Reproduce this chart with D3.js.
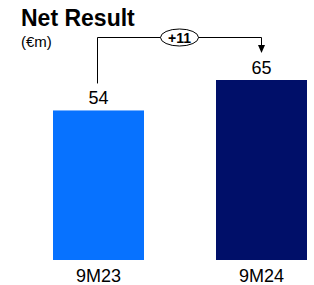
<!DOCTYPE html>
<html>
<head>
<meta charset="utf-8">
<script src="https://cdn.jsdelivr.net/npm/d3@7"></script>
<style>
  body { margin: 0; background: #fff; }
  text { font-family: "Liberation Sans", Arial, sans-serif; }
</style>
</head>
<body>
<div id="chart"></div>
<script>
// data
var categories = ["9M23", "9M24"];
var values = [54, 65];
var barColors = ["#0772ff", "#000f69"];
var title = "Net Result";
var unit = "(€m)";

var width = 314, height = 285;

var svg = d3.select("#chart").append("svg")
  .attr("width", width)
  .attr("height", height);

// scales
var x = d3.scalePoint()
  .domain(categories)
  .range([98.5, 261.5]);
var barW = 91;
var y = d3.scaleLinear()
  .domain([0, 65])
  .range([260, 80]);

// title
svg.append("text")
  .attr("x", 21).attr("y", 26)
  .attr("font-size", 23).attr("font-weight", "bold")
  .attr("fill", "#000")
  .text(title);
svg.append("text")
  .attr("x", 21).attr("y", 47)
  .attr("font-size", 15)
  .attr("fill", "#000")
  .text(unit);

// bars
svg.selectAll("rect.bar")
  .data(values)
  .enter()
  .append("rect")
  .attr("class", "bar")
  .attr("x", function(d, i) { return x(categories[i]) - barW / 2; })
  .attr("y", function(d) { return y(d); })
  .attr("width", barW)
  .attr("height", function(d) { return y(0) - y(d); })
  .attr("fill", function(d, i) { return barColors[i]; });

// value labels
svg.selectAll("text.val")
  .data(values)
  .enter()
  .append("text")
  .attr("class", "val")
  .attr("x", function(d, i) { return x(categories[i]); })
  .attr("y", function(d) { return y(d) - 6; })
  .attr("text-anchor", "middle")
  .attr("font-size", 18)
  .attr("fill", "#000")
  .text(function(d) { return d; });

// category labels
svg.selectAll("text.cat")
  .data(categories)
  .enter()
  .append("text")
  .attr("class", "cat")
  .attr("x", function(d) { return x(d); })
  .attr("y", 282)
  .attr("text-anchor", "middle")
  .attr("font-size", 18)
  .attr("fill", "#000")
  .text(function(d) { return d; });

// difference bracket
var x1 = x(categories[0]) - 1, x2 = x(categories[1]);
var topY = 37.5;
var startY = y(values[0]) - 27;
var tipY = y(values[1]) - 27;
svg.append("path")
  .attr("d", "M" + x1 + "," + startY + "V" + topY + "H" + x2 + "V" + (tipY - 7))
  .attr("fill", "none")
  .attr("stroke", "#000")
  .attr("stroke-width", 1);
svg.append("path")
  .attr("d", "M" + (x2 - 3.5) + "," + (tipY - 8) + "L" + (x2 + 3.5) + "," + (tipY - 8) + "L" + x2 + "," + tipY + "Z")
  .attr("fill", "#000");

var midX = (x1 + x2) / 2;
svg.append("ellipse")
  .attr("cx", midX).attr("cy", topY)
  .attr("rx", 19).attr("ry", 8.5)
  .attr("fill", "#fff")
  .attr("stroke", "#000")
  .attr("stroke-width", 1);
svg.append("text")
  .attr("x", midX).attr("y", topY + 5)
  .attr("text-anchor", "middle")
  .attr("font-size", 14).attr("font-weight", "bold")
  .attr("fill", "#000")
  .text("+" + (values[1] - values[0]));
</script>
</body>
</html>
